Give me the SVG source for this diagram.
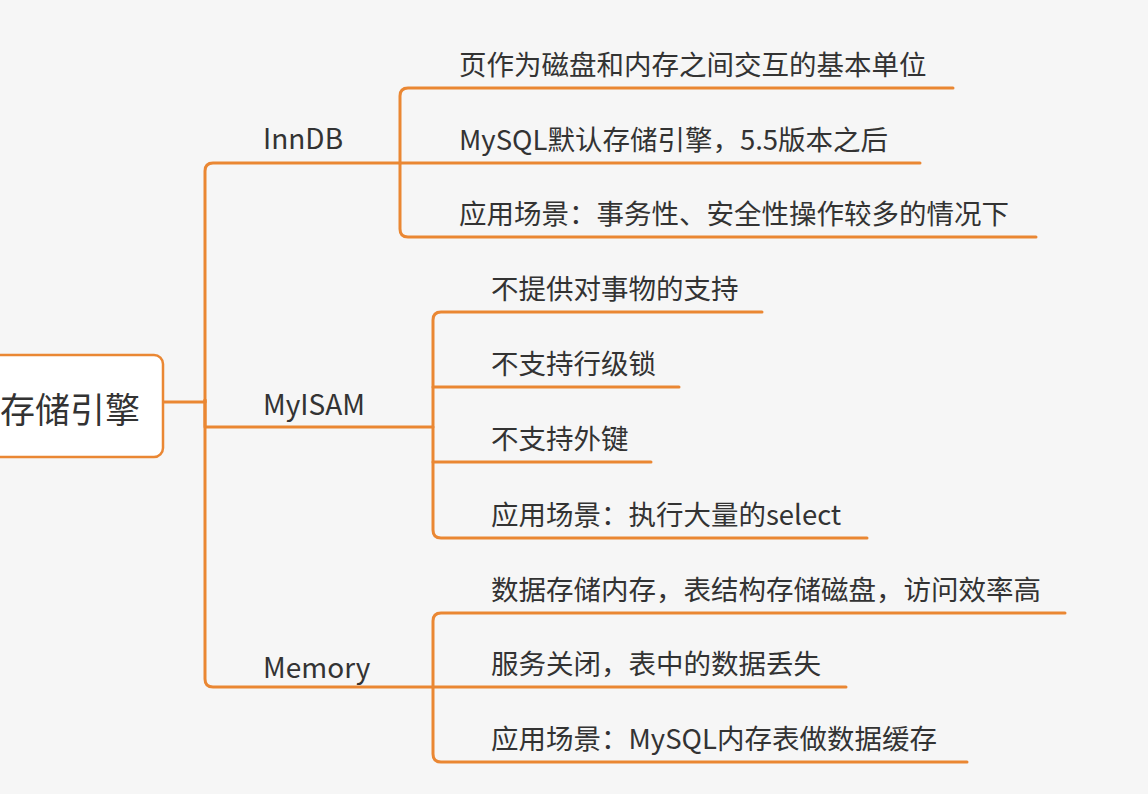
<svg xmlns="http://www.w3.org/2000/svg" width="1148" height="794" viewBox="0 0 1148 794">
<style>
.bg{fill:#f6f6f6}
.ln{fill:none;stroke:#ea8733;stroke-width:3;stroke-linecap:round;stroke-linejoin:round}
.box{fill:#ffffff;stroke:#ea8733;stroke-width:2.5}
text{font-family:"Noto Sans CJK SC","Noto Sans",sans-serif;fill:#333333}
.root{font-size:35px}
.l1{font-size:28px}
.l2{font-size:27.5px}
</style>
<rect class="bg" x="0" y="0" width="1148" height="794"/>
<g id="connectors">
<path class="ln" d="M163,402 H205"/>
<path class="ln" d="M400,163 H213 Q205,163 205,171 V402"/>
<path class="ln" d="M205,400 V427 H433"/>
<path class="ln" d="M205,400 V679 Q205,687 213,687 H433"/>
<path class="ln" d="M953,88 H408 Q400,88 400,96 V229 Q400,237 408,237 H1036"/>
<path class="ln" d="M400,163 H920"/>
<path class="ln" d="M762,312 H441 Q433,312 433,320 V530 Q433,538 441,538 H867"/>
<path class="ln" d="M433,387 H679"/>
<path class="ln" d="M433,462 H651"/>
<path class="ln" d="M1065,613 H441 Q433,613 433,621 V754 Q433,762 441,762 H967"/>
<path class="ln" d="M433,687 H846"/>
</g>
<g id="root">
<rect class="box" x="-20" y="355" width="183" height="102" rx="9"/>
<text class="root" x="0" y="423">存储引擎</text>
</g>
<g id="innodb"><text class="l1" x="263" y="149">InnDB</text></g>
<g id="myisam"><text class="l1" x="263" y="415">MyISAM</text></g>
<g id="memory"><text class="l1" x="263" y="678">Memory</text></g>
<g id="innodb-1"><text class="l2" x="459" y="75">页作为磁盘和内存之间交互的基本单位</text></g>
<g id="innodb-2"><text class="l2" x="459" y="150">MySQL默认存储引擎，5.5版本之后</text></g>
<g id="innodb-3"><text class="l2" x="459" y="224">应用场景：事务性、安全性操作较多的情况下</text></g>
<g id="myisam-1"><text class="l2" x="491" y="299">不提供对事物的支持</text></g>
<g id="myisam-2"><text class="l2" x="491" y="374">不支持行级锁</text></g>
<g id="myisam-3"><text class="l2" x="491" y="449">不支持外键</text></g>
<g id="myisam-4"><text class="l2" x="491" y="525">应用场景：执行大量的select</text></g>
<g id="memory-1"><text class="l2" x="491" y="600">数据存储内存，表结构存储磁盘，访问效率高</text></g>
<g id="memory-2"><text class="l2" x="491" y="674">服务关闭，表中的数据丢失</text></g>
<g id="memory-3"><text class="l2" x="491" y="749">应用场景：MySQL内存表做数据缓存</text></g>
</svg>
